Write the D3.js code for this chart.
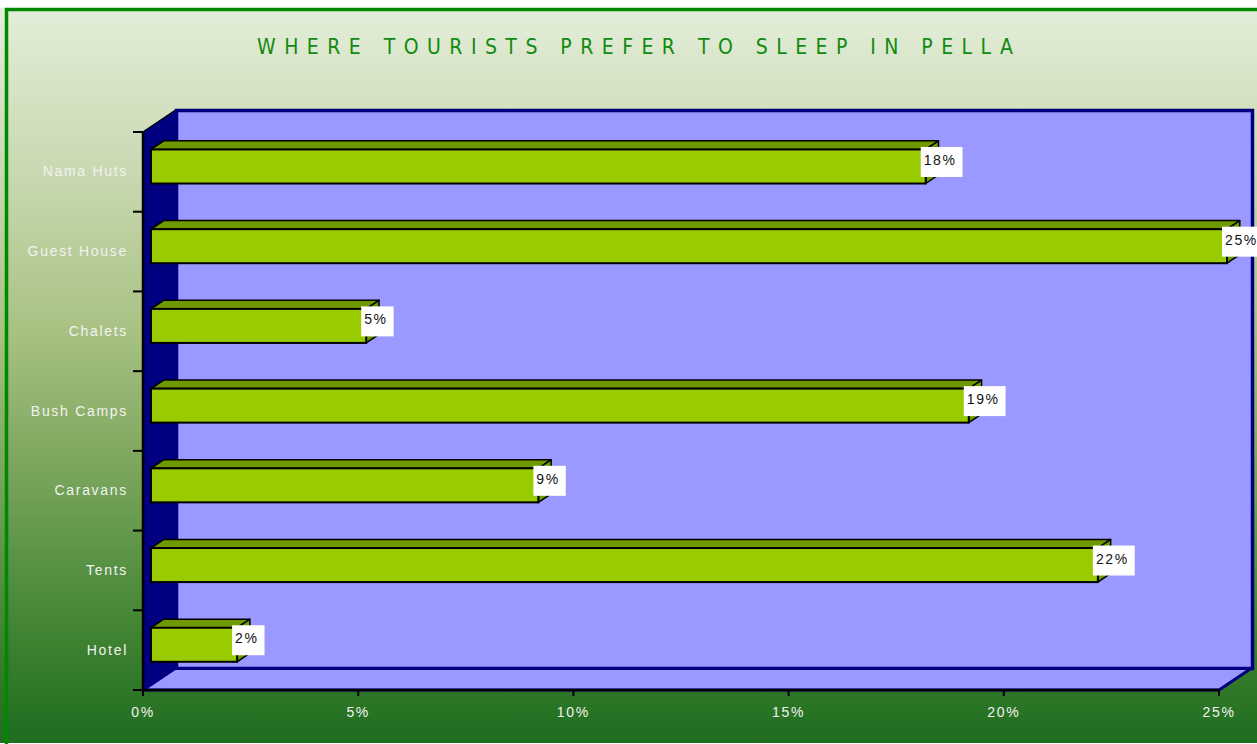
<!DOCTYPE html>
<html><head><meta charset="utf-8">
<script src="https://cdn.jsdelivr.net/npm/d3@7"></script>
<style>html,body{margin:0;padding:0;background:#fff;overflow:hidden}</style>
</head><body>
<svg id="chart" width="1257" height="744"></svg>
<script>
const title = "WHERE TOURISTS PREFER TO SLEEP IN PELLA";
const categories = ["Nama Huts","Guest House","Chalets","Bush Camps","Caravans","Tents","Hotel"];
const values = [0.18,0.25,0.05,0.19,0.09,0.22,0.02];
const valueLabels = ["18%","25%","5%","19%","9%","22%","2%"];
const tickValues = [0,0.05,0.10,0.15,0.20,0.25];
const tickLabels = ["0%","5%","10%","15%","20%","25%"];

const svg = d3.select("#chart");
const defs = svg.append("defs");
const grad = defs.append("linearGradient").attr("id","bg").attr("gradientUnits","userSpaceOnUse")
  .attr("x1",0).attr("y1",10).attr("x2",0).attr("y2",742);
[[10,"#e3edd8"],[170,"#c9d9b2"],[330,"#a8c283"],[450,"#82a962"],[550,"#5d9548"],[650,"#3b7f2f"],[742,"#1f6d1f"]]
  .forEach(s=>grad.append("stop").attr("offset",(s[0]-10)/732).attr("stop-color",s[1]));

svg.append("rect").attr("x",0).attr("y",8).attr("width",1265).attr("height",735).attr("fill","url(#bg)");
svg.append("path").attr("d","M6.5,744V9.5H1262").attr("fill","none").attr("stroke","#008800").attr("stroke-width",3.5);

// geometry
const x0 = 143, x1 = 1219, yTop = 132, yBot = 690;
const DX = 32, DY = -21.5;
const x = d3.scaleLinear().domain([0,0.25]).range([x0,x1]);
const y = d3.scaleBand().domain(categories).range([yTop,yBot]).paddingInner(0.573).paddingOuter(0.2865);

// walls
const wall = svg.append("g");
wall.append("rect").attr("x",x0+DX+1.5).attr("y",yTop+DY).attr("width",x1-x0).attr("height",yBot-yTop)
  .attr("fill","#9999ff").attr("stroke","#000080").attr("stroke-width",3.5);
wall.append("path").attr("d",`M${x0},${yBot}L${x0+DX},${yBot+DY}L${x1+DX},${yBot+DY}L${x1},${yBot}Z`)
  .attr("fill","#9999ff").attr("stroke","#000080").attr("stroke-width",3).attr("stroke-linejoin","round");
wall.append("path").attr("d",`M${x0},${yTop}L${x0+DX},${yTop+DY}L${x0+DX},${yBot+DY}L${x0},${yBot}Z`)
  .attr("fill","#000080").attr("stroke","#000080").attr("stroke-width",1);
wall.append("line").attr("x1",x0).attr("y1",yTop).attr("x2",x0+DX).attr("y2",yTop+DY).attr("stroke","#000").attr("stroke-width",1.5);

const fontFam = "'Liberation Sans',Arial,sans-serif";
// axes
const yAxisG = svg.append("g").attr("transform",`translate(${x0},0)`);
yAxisG.append("line").attr("x1",0).attr("x2",0).attr("y1",yTop).attr("y2",yBot).attr("stroke","#000").attr("stroke-width",2.5);
const bounds = categories.map(c=>y(c)-y.step()*y.paddingInner()/2).concat([yBot]);
bounds[0] = yTop;
yAxisG.selectAll("line.tk").data(bounds).join("line").attr("class","tk")
  .attr("x1",-10).attr("x2",0).attr("y1",d=>d).attr("y2",d=>d).attr("stroke","#000").attr("stroke-width",2);
yAxisG.selectAll("text").data(categories).join("text")
  .attr("x",-15).attr("y",c=>y(c)+y.bandwidth()/2+4.5)
  .attr("text-anchor","end").attr("fill","#f2f2f2")
  .style("font-family",fontFam).style("font-size","14px").style("letter-spacing","1.7px")
  .text(d=>d);

const xAxisG = svg.append("g");
xAxisG.append("line").attr("x1",x0).attr("x2",x1).attr("y1",yBot).attr("y2",yBot).attr("stroke","#000").attr("stroke-width",2.5);
xAxisG.selectAll("line.tk").data(tickValues).join("line").attr("class","tk")
  .attr("x1",d=>x(d)).attr("x2",d=>x(d)).attr("y1",yBot).attr("y2",yBot+6).attr("stroke","#000").attr("stroke-width",2);
xAxisG.selectAll("text").data(tickValues).join("text")
  .attr("x",d=>x(d)).attr("y",717).attr("text-anchor","middle").attr("fill","#f2f2f2")
  .style("font-family",fontFam).style("font-size","14px").style("letter-spacing","1.7px")
  .text((d,i)=>tickLabels[i]);

// bars
const fx = DX*0.25, fy = DY*0.25;
const bx = DX*0.4, by = DY*0.4;
const bars = svg.append("g");
categories.forEach((c,i)=>{
  const l = x(0)+fx, r = x(values[i])+fx, t = y(c)+fy, b = t+y.bandwidth();
  const g = bars.append("g");
  g.append("path").attr("d",`M${l},${t}L${l+bx},${t+by}L${r+bx},${t+by}L${r},${t}Z`)
    .attr("fill","#6f9900").attr("stroke","#000").attr("stroke-width",1.5).attr("stroke-linejoin","round");
  g.append("path").attr("d",`M${r},${t}L${r+bx},${t+by}L${r+bx},${b+by}L${r},${b}Z`)
    .attr("fill","#6f9900").attr("stroke","#000").attr("stroke-width",1.5).attr("stroke-linejoin","round");
  g.append("rect").attr("x",l).attr("y",t).attr("width",r-l).attr("height",b-t)
    .attr("fill","#99cc00").attr("stroke","#000").attr("stroke-width",2);
  const lbl = g.append("g");
  const txt = lbl.append("text").attr("x",r-2).attr("y",t+15.5).attr("fill","#111")
    .style("font-family",fontFam).style("font-size","14px").style("letter-spacing","1.6px")
    .text(valueLabels[i]);
  const w = txt.node().getComputedTextLength();
  lbl.insert("rect","text").attr("x",r-5).attr("y",t-2.5).attr("width",w+9).attr("height",30).attr("fill","#fff");
});

// title
svg.append("text").attr("x",257).attr("y",54).attr("textLength",756).attr("lengthAdjust","spacing")
  .attr("fill","#118a11")
  .style("font-family","'Liberation Sans Narrow','DejaVu Sans Condensed','Liberation Sans',sans-serif")
  .style("font-stretch","condensed").style("font-size","21px")
  .text(title);
</script>
</body></html>
